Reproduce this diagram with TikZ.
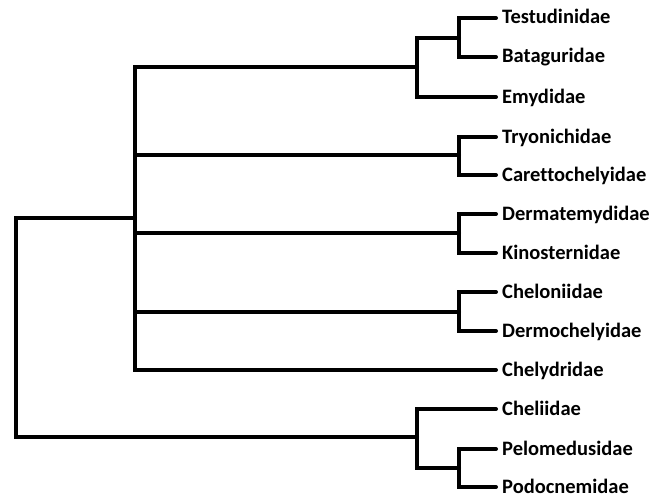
\documentclass[tikz,border=0pt]{standalone}
\usepackage{fontspec}
\setmainfont{Carlito}[Ligatures=NoCommon]
\begin{document}
\begin{tikzpicture}[x=1pt,y=-1pt,
  br/.style={line width=4pt,line join=miter,line cap=round},
  leaf/.style={anchor=west,inner xsep=6pt,inner ysep=0pt,font=\fontsize{20.5}{21}\selectfont\bfseries,text height=13pt,text depth=1pt}]
\useasboundingbox (0,0) rectangle (654,495);
% internal nodes
\coordinate (root) at (16,327);
\coordinate (cry) at (135,218);
\coordinate (tes) at (417,67);
\coordinate (tb) at (459,38);
\coordinate (tri) at (459,155);
\coordinate (der) at (459,233);
\coordinate (che) at (459,312);
\coordinate (ple) at (417,437);
\coordinate (pp) at (459,468);
% leaves
\node[leaf] (l1) at (496,18) {Testudinidae};
\node[leaf] (l2) at (496,57) {Bataguridae};
\node[leaf] (l3) at (496,97) {Emydidae};
\node[leaf] (l4) at (496,137) {Tryonichidae};
\node[leaf] (l5) at (496,175) {Carettochelyidae};
\node[leaf] (l6) at (496,214) {Dermatemydidae};
\node[leaf] (l7) at (496,253) {Kinosternidae};
\node[leaf] (l8) at (496,292) {Cheloniidae};
\node[leaf] (l9) at (496,331) {Dermochelyidae};
\node[leaf] (l10) at (496,370) {Chelydridae};
\node[leaf] (l11) at (496,409) {Cheliidae};
\node[leaf] (l12) at (496,449) {Pelomedusidae};
\node[leaf] (l13) at (496,487) {Podocnemidae};
% branches
\draw[br] (cry) -| (root) |- (ple);
\draw[br] (tes) -| (cry) |- (l10.west);
\draw[br] (cry) |- (tri);
\draw[br] (cry) |- (der);
\draw[br] (cry) |- (che);
\draw[br] (tb) -| (tes) |- (l3.west);
\draw[br] (l1.west) -| (tb) |- (l2.west);
\draw[br] (l4.west) -| (tri) |- (l5.west);
\draw[br] (l6.west) -| (der) |- (l7.west);
\draw[br] (l8.west) -| (che) |- (l9.west);
\draw[br] (l11.west) -| (ple) |- (pp);
\draw[br] (l12.west) -| (pp) |- (l13.west);
\end{tikzpicture}
\end{document}
